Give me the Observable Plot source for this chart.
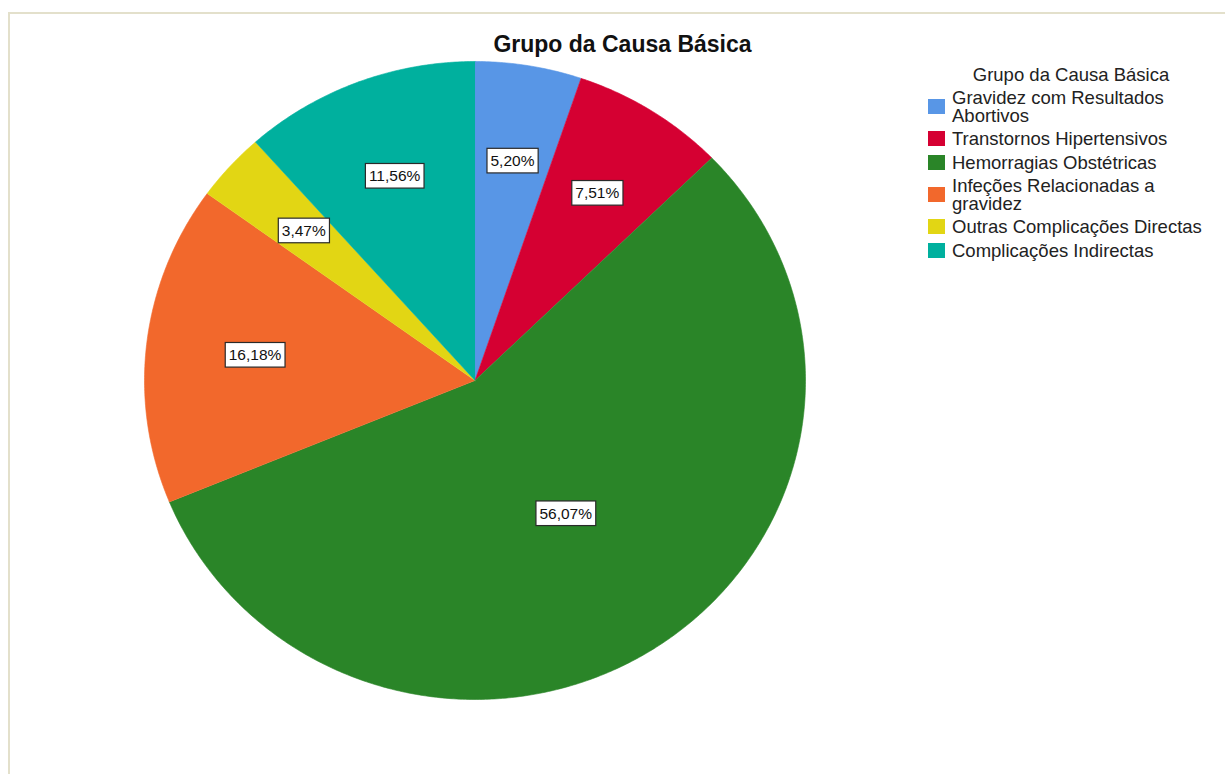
<!DOCTYPE html>
<html>
<head>
<meta charset="utf-8">
<script src="https://cdn.jsdelivr.net/npm/d3@7"></script>
<script src="https://cdn.jsdelivr.net/npm/@observablehq/plot@0.6"></script>
<style>
  body { margin: 0; background: #fff; font-family: "Liberation Sans", Arial, sans-serif; }
  #wrap { position: relative; width: 1225px; height: 774px; overflow: hidden; background: #fff; }
  #frame { position: absolute; left: 8px; top: 12px; right: -10px; bottom: -10px;
           border-top: 2px solid #e3e0cb; border-left: 2px solid #e3e0cb; }
  #chart { position: absolute; left: 0; top: 0; }
  #title { position: absolute; left: 422.5px; width: 400px; top: 32.5px; text-align: center;
           font-weight: bold; font-size: 23px; line-height: 23px; color: #111; white-space: nowrap; }
  #legend { position: absolute; left: 928px; top: 65.7px; font-size: 18.5px; line-height: 17.5px; color: #222; }
  #legend .ltitle { width: 286px; text-align: center; margin-bottom: 6px; }
  #legend .item { display: flex; align-items: center; margin-bottom: 6px; }
  #legend .sw { width: 17px; height: 15px; flex: none; margin-right: 7px; }
  #legend .txt { width: 265px; }
</style>
</head>
<body>
<div id="wrap">
  <div id="frame"></div>
  <div id="chart"></div>
  <div id="title"></div>
  <div id="legend"></div>
</div>
<script>
// ---- data ----
const chartTitle = "Grupo da Causa Básica";
const legendTitle = "Grupo da Causa Básica";
const categories = [
  "Gravidez com Resultados Abortivos",
  "Transtornos Hipertensivos",
  "Hemorragias Obstétricas",
  "Infeções Relacionadas a gravidez",
  "Outras Complicações Directas",
  "Complicações Indirectas"
];
const values = [5.20, 7.51, 56.07, 16.18, 3.47, 11.56];
const colors = ["#5896e6", "#d50032", "#2a8528", "#f2682c", "#e2d614", "#00b09e"];

// ---- derived geometry (from the data) ----
const fmt = v => v.toFixed(2).replace(".", ",") + "%";
const total = d3.sum(values);
let acc = 0;
const slices = values.map((v, i) => {
  const a0 = acc / total * 2 * Math.PI;
  acc += v;
  const a1 = acc / total * 2 * Math.PI;
  return { cat: categories[i], value: v, a0, a1 };
});
const pts = [];
for (const s of slices) {
  pts.push({ cat: s.cat, x: 0, y: 0 });
  const n = Math.max(2, Math.ceil((s.a1 - s.a0) / (Math.PI / 360)));
  for (let k = 0; k <= n; k++) {
    const a = s.a0 + (s.a1 - s.a0) * k / n;
    pts.push({ cat: s.cat, x: Math.sin(a), y: Math.cos(a) });
  }
}
const labelData = slices.map(s => {
  const h = (s.a1 - s.a0) / 2, m = (s.a0 + s.a1) / 2;
  const f = Math.max(2 * Math.sin(h) / (3 * h) * 1.05, 0.5);
  return { x: f * Math.sin(m), y: f * Math.cos(m), text: fmt(s.value) };
});

const chart = Plot.plot({
  width: 1225,
  height: 774,
  marginLeft: 144,
  marginRight: 420,
  marginTop: 61,
  marginBottom: 75,
  x: { domain: [-1, 1], axis: null },
  y: { domain: [-1, 1], axis: null },
  color: { domain: categories, range: colors },
  style: { background: "transparent", fontFamily: "Liberation Sans, Arial, sans-serif" },
  marks: [
    Plot.line(pts, { x: "x", y: "y", z: "cat", fill: "cat", stroke: "cat", strokeWidth: 0.6, curve: "linear" }),
    Plot.text(labelData, { x: "x", y: "y", text: "text", fontSize: 15.5, fill: "#111" })
  ]
});
document.getElementById("chart").appendChild(chart);
document.getElementById("title").textContent = chartTitle;

// label boxes
const ns = "http://www.w3.org/2000/svg";
chart.querySelectorAll('g[aria-label="text"] text').forEach(t => {
  const bb = t.getBBox();
  const r = document.createElementNS(ns, "rect");
  r.setAttribute("x", bb.x - 3.5);
  r.setAttribute("y", bb.y - 3.8);
  r.setAttribute("width", bb.width + 7);
  r.setAttribute("height", bb.height + 7.6);
  r.setAttribute("fill", "#fff");
  r.setAttribute("stroke", "#2a2a2a");
  r.setAttribute("stroke-width", "1.2");
  if (t.getAttribute("transform")) r.setAttribute("transform", t.getAttribute("transform"));
  t.parentNode.insertBefore(r, t);
});

// legend
const lg = document.getElementById("legend");
const lt = document.createElement("div");
lt.className = "ltitle";
lt.textContent = legendTitle;
lg.appendChild(lt);
categories.forEach((c, i) => {
  const it = document.createElement("div");
  it.className = "item";
  const sw = document.createElement("div");
  sw.className = "sw";
  sw.style.background = colors[i];
  const tx = document.createElement("div");
  tx.className = "txt";
  tx.textContent = c;
  it.appendChild(sw);
  it.appendChild(tx);
  lg.appendChild(it);
});
</script>
</body>
</html>
